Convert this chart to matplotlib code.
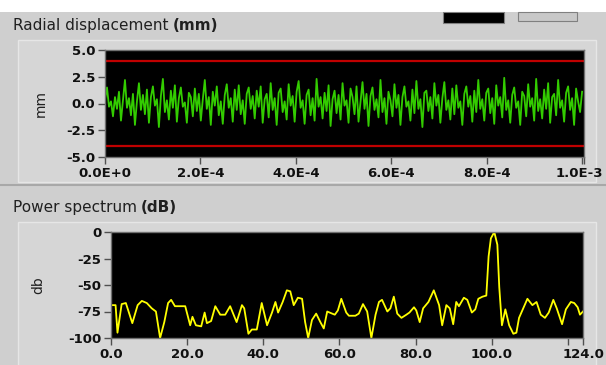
import numpy as np
import matplotlib.pyplot as plt
from matplotlib.patches import Rectangle
from matplotlib.transforms import ScaledTranslation

# ---- DATA: radial displacement (mm) ----
displacement = [
    0.4, 1.5, -0.3, 0.2, -1.2, 0.6, -0.5, 1.1, -1.6, 0.3, 2.2, -0.4,
    0.5, -1.1, 0.9, -2.0, 0.2, 1.9, -0.6, 0.8, -1.0, 1.3, -1.8, 0.6,
    1.6, -0.2, 0.4, -2.2, 0.7, 2.3, -0.8, 0.3, -1.5, 1.2, -0.4, 1.7,
    -1.7, 0.5, 1.5, -0.3, 0.1, -1.8, 1.0, 0.6, -1.2, 1.4, -0.7, 0.9,
    -1.6, 0.4, 2.2, -0.5, 0.6, -2.0, 1.1, -0.2, 1.6, -1.1, 0.2, -1.9,
    0.8, 1.8, -0.4, 0.5, -1.7, 1.3, -0.6, 1.7, -1.0, 0.3, -1.9, 0.9,
    1.5, -0.5, 0.7, -1.4, 1.2, -0.3, 1.6, -1.8, 0.4, 0.9, -1.3, 1.9,
    -0.6, 0.5, -2.0, 1.0, 1.4, -0.8, 0.2, -1.5, 1.8, -0.2, 0.7, -1.7,
    1.1, 2.1, -0.4, 0.3, -1.9, 0.8, 1.3, -1.1, 0.5, -1.6, 2.3, -0.3,
    0.6, -1.4, 1.0, -0.7, 1.7, -2.1, 0.4, 1.2, -0.9, 0.8, -1.5, 1.9,
    -0.2, 0.3, -1.8, 1.4, 0.6, -1.0, 1.6, -1.7, 0.2, 2.0, -0.5, 0.9,
    -2.1, 0.7, 1.5, -0.6, 0.4, -1.3, 2.2, -0.8, 0.5, -1.9, 1.1, 0.3,
    -1.2, 1.8, -0.4, 0.8, -2.0, 0.6, 1.6, -0.3, 0.2, -1.6, 1.3, -0.9,
    2.1, -0.5, 0.4, -2.2, 1.0, 1.2, -0.7, 0.6, -1.4, 1.9, -0.2, 0.8,
    -1.8, 0.5, 2.0, -0.6, 0.3, -1.5, 1.4, -1.0, 1.7, -0.4, 0.2, -2.0,
    0.9, 1.6, -0.3, 0.7, -1.7, 1.2, -0.8, 2.2, -0.5, 0.4, -1.6, 1.0,
    1.4, -0.9, 0.5, -1.9, 1.7, -0.2, 0.6, -1.3, 2.4, -0.6, 0.3, -1.8,
    0.8, 1.5, -0.4, 0.2, -2.0, 1.1, 0.7, -1.2, 1.8, -0.3, 0.5, -1.6,
    2.3, -0.7, 0.4, -1.4, 1.3, -0.5, 1.9, -1.8, 0.6, 0.9, -1.1, 2.2,
    -0.4, 0.3, -1.7, 1.0, 1.6, -0.6, 0.5, -2.0, 1.4, 0.2, -0.8, 1.1,
]
t_end = 1.0e-3
limit_hi = 4.0
limit_lo = -4.0

# ---- DATA: power spectrum (dB) ----
freq = [
    0.0, 1.2, 1.7, 2.8, 3.9, 5.6, 7.0, 8.1, 9.4, 10.7,
    11.8, 12.9, 14.0, 15.0, 15.8, 16.8, 19.5, 20.8, 21.4, 22.3,
    23.7, 24.6, 25.2, 26.3, 27.4, 28.7, 30.0, 31.3, 33.0, 34.4,
    35.0, 36.1, 37.0, 38.3, 39.6, 41.0, 42.3, 43.2, 43.9, 45.1,
    46.2, 47.1, 48.0, 49.1, 50.2, 51.0, 51.8, 52.8, 53.9, 55.0,
    55.9, 56.8, 58.1, 58.8, 59.6, 60.5, 61.8, 62.5, 64.2, 65.1,
    66.2, 67.3, 68.4, 69.5, 70.4, 71.2, 72.6, 73.4, 74.3, 75.2,
    76.3, 77.6, 78.4, 79.6, 80.2, 81.1, 82.0, 83.4, 84.8, 86.2,
    87.0, 88.1, 89.0, 89.9, 90.7, 91.4, 92.7, 93.6, 94.8, 95.7,
    96.5, 97.6, 98.6, 99.2, 99.8, 100.7, 101.5, 102.0, 102.7, 103.6,
    104.6, 105.7, 106.5, 107.2, 108.3, 109.4, 110.7, 111.8, 112.9, 114.0,
    115.0, 116.2, 117.1, 118.5, 119.5, 120.8, 121.7, 122.6, 123.2, 124.0,
]
power_db = [
    -69, -69, -95, -68, -67, -86, -69, -65, -67, -72,
    -75, -100, -85, -67, -64, -70, -70, -88, -80, -88,
    -89, -76, -86, -84, -70, -78, -78, -70, -85, -69,
    -72, -96, -92, -92, -67, -88, -76, -66, -76, -66,
    -55, -56, -69, -62, -63, -85, -100, -83, -77, -85,
    -91, -75, -77, -78, -74, -63, -76, -79, -79, -77,
    -68, -75, -100, -78, -66, -64, -75, -72, -61, -77,
    -81, -78, -76, -71, -74, -85, -72, -66, -55, -69,
    -88, -69, -72, -87, -66, -70, -62, -64, -76, -73,
    -63, -61, -60, -23, -6, 0, -12, -52, -88, -73,
    -88, -96, -95, -81, -72, -63, -69, -66, -78, -81,
    -76, -64, -72, -87, -73, -66, -67, -71, -78, -75,
]

W, H = 606, 365
BG = "#cfcfcf"


def px_axes(left, top, right, bottom):
    return [left / W, 1 - bottom / H, (right - left) / W, (bottom - top) / H]


def fig_rect(fig, x, y, w, h, **kw):
    fig.patches.append(Rectangle((x / W, 1 - (y + h) / H), w / W, h / H,
                                 transform=fig.transFigure, zorder=-5, **kw))


def two_part_title(fig, x, y, normal, bold):
    t1 = fig.text(x / W, 1 - y / H, normal, fontsize=11, color="#202020",
                  va="baseline", ha="left")
    fig.canvas.draw()
    bb = t1.get_window_extent()
    fig.text((bb.x1 + 4) / W, 1 - y / H, bold, fontsize=11,
             fontweight="bold", color="#202020", va="baseline", ha="left")


def style_axes(ax):
    ax.set_facecolor("black")
    for sp in ax.spines.values():
        sp.set_color("#707070")
        sp.set_linewidth(1.0)
    ax.tick_params(direction="out", length=5, width=1, color="#505050",
                   labelsize=9.5, pad=2, labelcolor="#101010")
    for lab in ax.get_xticklabels() + ax.get_yticklabels():
        lab.set_fontweight("bold")


fig = plt.figure(figsize=(W / 100, H / 100), dpi=100)
fig.patch.set_facecolor(BG)

# ---- PANEL DECORATION ----
fig_rect(fig, 0, 0, W, 12, facecolor="white", edgecolor="none")
fig_rect(fig, 18, 40, 578, 142, facecolor="#d6d6d6", edgecolor="#e6e6e6", lw=1.0)
fig_rect(fig, 18, 222, 578, 150, facecolor="#d6d6d6", edgecolor="#e6e6e6", lw=1.0)
fig_rect(fig, 443, 12, 61, 11, facecolor="black", edgecolor="#808080", lw=0.8)
fig_rect(fig, 518, 12, 59, 9, facecolor="#c8c8c8", edgecolor="#808080", lw=0.8)
fig.lines.append(plt.Line2D([0, 1], [1 - 185 / H] * 2, transform=fig.transFigure,
                            color="#a8a8a8", lw=1.5, zorder=-4))

# ---- TOP: radial displacement ----
ax1 = fig.add_axes(px_axes(105, 50, 584, 157))
t = np.linspace(0, t_end, len(displacement))
ax1.plot(t, displacement, color="#33cc00", lw=1.3)
ax1.axhline(limit_hi, color="#c00000", lw=1.6)
ax1.axhline(limit_lo, color="#c00000", lw=1.6)
x1_max = t_end * 1.004
ax1.set_xlim(0, x1_max)
ax1.set_ylim(-5, 5)
ax1.set_yticks([5, 2.5, 0, -2.5, -5])
ax1.set_yticklabels(["5.0", "2.5", "0.0", "-2.5", "-5.0"])
ax1.set_xticks([0, 2e-4, 4e-4, 6e-4, 8e-4, 1e-3, x1_max])
ax1.set_xticklabels(["0.0E+0", "2.0E-4", "4.0E-4", "6.0E-4", "8.0E-4", "", "1.0E-3"])
ax1.set_ylabel("mm", fontsize=10, color="#202020")
ax1.yaxis.set_label_coords((48 - 105) / 479, 0.5)
style_axes(ax1)
# last label sits at the right edge; nudge it so it stays inside the figure
last = ax1.get_xticklabels()[-1]
last.set_transform(last.get_transform() + ScaledTranslation(-5 / 100, 0, fig.dpi_scale_trans))

# ---- BOTTOM: power spectrum ----
ax2 = fig.add_axes(px_axes(111, 232, 583, 338))
ax2.plot(freq, power_db, color="#ffff00", lw=1.3)
ax2.set_xlim(0, 124)
ax2.set_ylim(-100, 0)
ax2.set_yticks([0, -25, -50, -75, -100])
ax2.set_yticklabels(["0", "-25", "-50", "-75", "-100"])
ax2.set_xticks([0, 20, 40, 60, 80, 100, 120, 124])
ax2.set_xticklabels(["0.0", "20.0", "40.0", "60.0", "80.0", "100.0", "", "124.0"])
ax2.set_ylabel("db", fontsize=10, color="#202020")
ax2.yaxis.set_label_coords((45 - 111) / 472, 0.5)
style_axes(ax2)

two_part_title(fig, 13, 30, "Radial displacement", "(mm)")
two_part_title(fig, 13, 212, "Power spectrum", "(dB)")

fig.savefig("out.png", dpi=100, facecolor=fig.get_facecolor())
